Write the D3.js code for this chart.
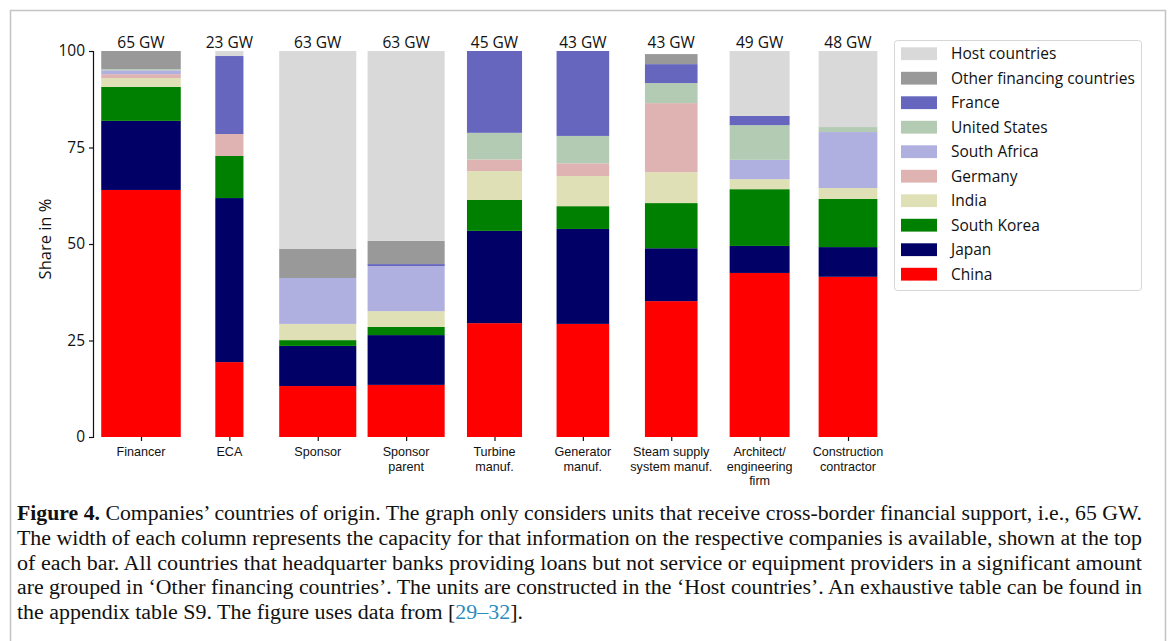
<!DOCTYPE html>
<html>
<head>
<meta charset="utf-8">
<script src="https://cdn.jsdelivr.net/npm/d3@7"></script>
<style>
  html, body { margin: 0; padding: 0; background: #fff; }
  svg { display: block; }
</style>
</head>
<body>
<svg id="fig" width="1170" height="641"></svg>
<script>
// Company roles (columns) and the capacity each column covers
const categories = ["Financer", "ECA", "Sponsor", "Sponsor parent", "Turbine manuf.",
  "Generator manuf.", "Steam supply system manuf.", "Architect/engineering firm", "Construction contractor"];
const categoryLabels = [["Financer"], ["ECA"], ["Sponsor"], ["Sponsor", "parent"], ["Turbine", "manuf."],
  ["Generator", "manuf."], ["Steam supply", "system manuf."], ["Architect/", "engineering", "firm"],
  ["Construction", "contractor"]];
const capacityGW = [65, 23, 63, 63, 45, 43, 43, 49, 48];

// Share (%) of each country of origin per column, stacked bottom to top
const china         = [64.0, 19.4, 13.2, 13.5, 29.5, 29.3, 35.2, 42.5, 41.5];
const japan         = [17.9, 42.5, 10.4, 12.9, 23.9, 24.6, 13.7,  7.0,  7.7];
const southKorea    = [ 8.8, 10.9,  1.5,  2.1,  8.0,  5.9, 11.7, 14.7, 12.5];
const india         = [ 2.3,  0.0,  4.2,  4.1,  7.5,  7.8,  8.0,  2.6,  2.8];
const germany       = [ 1.0,  5.7,  0.0,  0.0,  3.0,  3.3, 17.9,  0.0,  0.0];
const southAfrica   = [ 1.0,  0.0, 11.9, 11.7,  0.0,  0.0,  0.0,  5.0, 14.5];
const unitedStates  = [ 0.3,  0.0,  0.0,  0.0,  6.9,  7.1,  5.2,  9.0,  1.3];
const france        = [ 0.0, 20.2,  0.0,  0.5, 21.2, 22.0,  4.9,  2.4,  0.0];
const otherFinancing= [ 4.7,  0.0,  7.5,  6.0,  0.0,  0.0,  2.6,  0.0,  0.0];
const hostCountries = [ 0.0,  1.3, 51.3, 49.2,  0.0,  0.0,  0.0, 16.8, 19.7];

const yTicks = [0, 25, 50, 75, 100];

const seriesNames = ["China", "Japan", "South Korea", "India", "Germany", "South Africa",
  "United States", "France", "Other financing countries", "Host countries"];
const seriesValues = [china, japan, southKorea, india, germany, southAfrica,
  unitedStates, france, otherFinancing, hostCountries];
const seriesColors = ["#ff0000", "#000066", "#008000", "#e0e0b6", "#e0b3b3", "#b0b0e0",
  "#b3cbb3", "#6666bf", "#999999", "#d9d9d9"];

// Rows for d3.stack
const rows = categories.map((c, i) => {
  const r = { category: c, gw: capacityGW[i] };
  seriesNames.forEach((s, k) => { r[s] = seriesValues[k][i]; });
  return r;
});

const svg = d3.select("#fig");
const ink = "#111";
const sans = "Open Sans, sans-serif";

// Page frame
svg.append("path")
  .attr("d", "M10.5,660 V10.5 H1165.5 V660")
  .attr("fill", "none").attr("stroke", "#c4c4c4").attr("stroke-width", 1.5);

// Scales
const x = d3.scalePoint().domain(categories).range([141, 848]);
const step = x.step();
const w = d3.scaleLinear().domain([0, d3.max(capacityGW)]).range([0, 0.9 * step]);
const y = d3.scaleLinear().domain([0, 100]).range([437, 51]);
const color = d3.scaleOrdinal().domain(seriesNames).range(seriesColors);

const stack = d3.stack().keys(seriesNames);
const layers = stack(rows);

const plot = svg.append("g");
plot.selectAll("g.layer")
  .data(layers)
  .join("g")
  .attr("class", "layer")
  .attr("fill", d => color(d.key))
  .selectAll("rect")
  .data(d => d)
  .join("rect")
  .attr("x", d => x(d.data.category) - w(d.data.gw) / 2)
  .attr("width", d => w(d.data.gw))
  .attr("y", d => y(d[1]))
  .attr("height", d => Math.max(0, y(d[0]) - y(d[1])));

// Capacity labels above each column
svg.append("g").selectAll("text")
  .data(rows)
  .join("text")
  .attr("x", d => x(d.category))
  .attr("y", 48)
  .attr("text-anchor", "middle")
  .attr("font-family", sans)
  .attr("font-size", 15.5)
  .attr("fill", ink)
  .text(d => `${d.gw} GW`);

// Y axis
const yAxis = svg.append("g")
  .attr("transform", "translate(93,0)")
  .call(d3.axisLeft(y).tickValues(yTicks).tickSize(4).tickPadding(4));
yAxis.select(".domain").attr("stroke", ink).attr("stroke-width", 1.2);
yAxis.selectAll(".tick line").attr("stroke", ink).attr("stroke-width", 1.2);
yAxis.selectAll(".tick text")
  .attr("font-family", sans)
  .attr("font-size", 15.5)
  .attr("fill", ink);

svg.append("text")
  .attr("transform", "translate(51,239) rotate(-90)")
  .attr("text-anchor", "middle")
  .attr("font-family", sans)
  .attr("font-size", 16.5)
  .attr("fill", ink)
  .text("Share in %");

// X axis: ticks and multi-line category labels, no baseline
const xAxis = svg.append("g")
  .attr("transform", "translate(0,437)")
  .call(d3.axisBottom(x).tickSize(4).tickFormat(""));
xAxis.select(".domain").remove();
xAxis.selectAll(".tick line").attr("stroke", ink).attr("stroke-width", 1.2);

// one text element per label line
const labelLines = categories.flatMap((c, i) =>
  categoryLabels[i].map((s, k) => ({ category: c, line: k, text: s })));
svg.append("g").selectAll("text")
  .data(labelLines)
  .join("text")
  .attr("x", d => x(d.category))
  .attr("y", d => 456 + d.line * 14.5)
  .attr("text-anchor", "middle")
  .attr("font-family", "Liberation Sans, Arial, sans-serif")
  .attr("font-size", 12.6)
  .attr("fill", ink)
  .text(d => d.text);

// Legend (top of stack listed first)
const legend = svg.append("g");
legend.append("rect")
  .attr("x", 894.5).attr("y", 40.5)
  .attr("width", 247).attr("height", 250)
  .attr("rx", 3)
  .attr("fill", "#fff").attr("stroke", "#d6d6d6").attr("stroke-width", 1);
const legendOrder = seriesNames.slice().reverse();
const lg = legend.selectAll("g.item")
  .data(legendOrder)
  .join("g")
  .attr("class", "item")
  .attr("transform", (d, i) => `translate(901,${53.7 + i * 24.5})`);
lg.append("rect")
  .attr("x", 0).attr("y", -6.4)
  .attr("width", 36).attr("height", 12.8)
  .attr("fill", d => color(d));
lg.append("text")
  .attr("x", 50).attr("y", 5.6)
  .attr("font-family", sans)
  .attr("font-size", 15.5)
  .attr("fill", ink)
  .text(d => d);

// Caption
const captionLines = [
  [["b", "Figure 4."], ["", " Companies’ countries of origin. The graph only considers units that receive cross-border financial support, i.e., 65 GW."]],
  [["", "The width of each column represents the capacity for that information on the respective companies is available, shown at the top"]],
  [["", "of each bar. All countries that headquarter banks providing loans but not service or equipment providers in a significant amount"]],
  [["", "are grouped in ‘Other financing countries’. The units are constructed in the ‘Host countries’. An exhaustive table can be found in"]],
  [["", "the appendix table S9. The figure uses data from ["], ["a", "29"], ["a", "–"], ["a", "32"], ["", "]."]]
];
const captionWidths = [1125, 1125, 1125, 1125, 506];
const cap = svg.append("g");
captionLines.forEach((parts, i) => {
  const t = cap.append("text")
    .attr("x", 17)
    .attr("y", 520 + i * 24.8)
    .attr("font-family", "Liberation Serif, serif")
    .attr("font-size", 20.5)
    .attr("fill", ink)
    .attr("textLength", captionWidths[i])
    .attr("lengthAdjust", "spacingAndGlyphs");
  parts.forEach(([kind, s]) => {
    t.append("tspan")
      .attr("font-weight", kind === "b" ? "bold" : null)
      .attr("fill", kind === "a" ? "#2b8cbe" : null)
      .text(s);
  });
});
</script>
</body>
</html>
